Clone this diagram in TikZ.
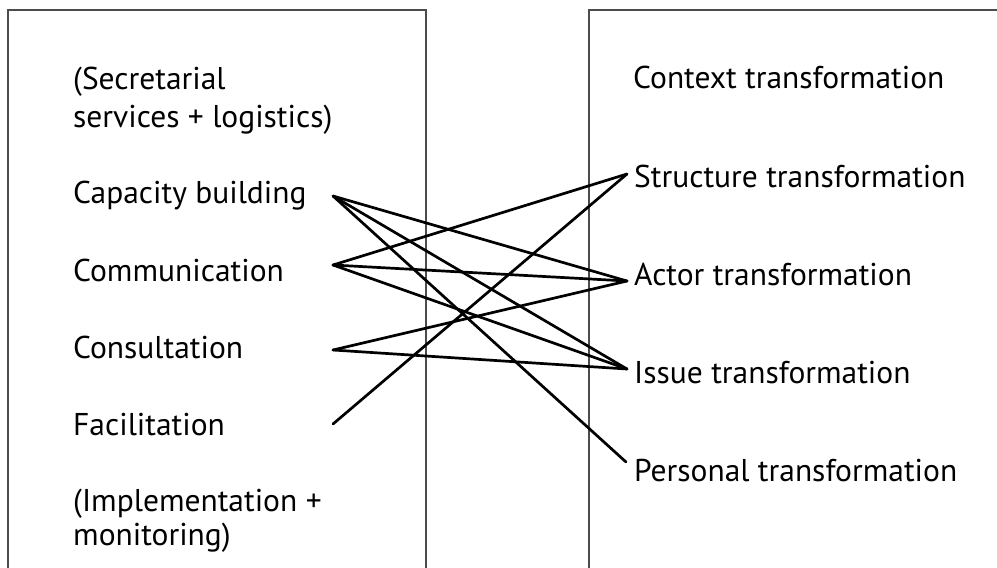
\documentclass[tikz,border=0pt]{standalone}
\usepackage{fontspec}
\setmainfont{PT Sans}
\begin{document}
\begin{tikzpicture}[x=1pt,y=-1pt,
  lbl/.style={anchor=base west,inner sep=0pt,font=\fontsize{31.5}{38}\selectfont,align=left},
  frame/.style={draw=black!70,line width=1.5pt},
  link/.style={draw=black,line width=2.7pt,line cap=round}]
\useasboundingbox (0,0) rectangle (997,568);
\clip (0,0) rectangle (997,568);
% the two framing boxes, open past the lower and right edges
\draw[frame] (8,580) -- (8,10) -- (426,10) -- (426,580);
\draw[frame] (589,580) -- (589,10) -- (1010,10);
% left column (base anchor of a two-line node sits on its last line)
\node[lbl] (sec) at (73,127) {(Secretarial\\services + logistics)};
\node[lbl] (cap) at (73,203) {Capacity building};
\node[lbl] (com) at (73,281) {Communication};
\node[lbl] (con) at (73,358) {Consultation};
\node[lbl] (fac) at (73,435) {Facilitation};
\node[lbl,font=\fontsize{31.5}{34}\selectfont] (imp) at (73,545) {(Implementation +\\monitoring)};
% right column
\node[lbl] (ctx) at (633,88) {Context transformation};
\node[lbl] (str) at (634,187) {Structure transformation};
\node[lbl] (act) at (634,285) {Actor transformation};
\node[lbl] (iss) at (634,383) {Issue transformation};
\node[lbl] (per) at (634,481) {Personal transformation};
% connector ports
\coordinate (pcap) at (333,196);
\coordinate (pcom) at (333,265);
\coordinate (pcon) at (333,350);
\coordinate (pfac) at (333,424);
\coordinate (pstr) at (627,174);
\coordinate (pact) at (627,281);
\coordinate (piss) at (627,369);
\coordinate (pper) at (626,462);
% links
\draw[link] (pcap) -- (pact);
\draw[link] (pcap) -- (piss);
\draw[link] (pcap) -- (pper);
\draw[link] (pcom) -- (pstr);
\draw[link] (pcom) -- (pact);
\draw[link] (pcom) -- (piss);
\draw[link] (pcon) -- (pact);
\draw[link] (pcon) -- (piss);
\draw[link] (pfac) -- (pstr);
\end{tikzpicture}
\end{document}
